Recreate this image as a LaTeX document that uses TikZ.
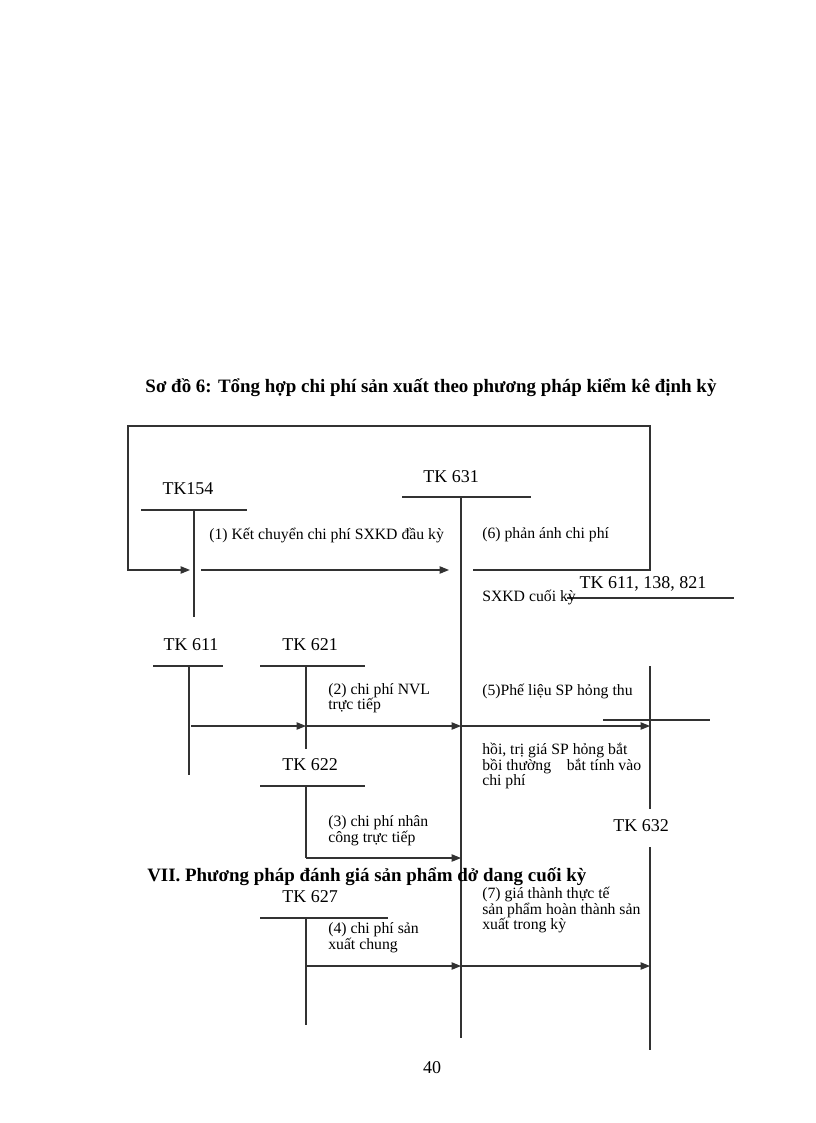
\documentclass[tikz,border=0pt]{standalone}
\usepackage{fontspec}
\setmainfont{Liberation Serif}
\usetikzlibrary{arrows.meta}
\definecolor{lineg}{RGB}{50,50,50}

\begin{document}
\begin{tikzpicture}[x=0.75pt,y=-0.75pt,
  ln/.style={lineg, line width=0.8pt},
  arr/.style={ln, -{Triangle[length=7pt,width=5.5pt]}},
  acct/.style={font=\fontsize{13.5}{15}\selectfont, inner sep=0pt},
  note/.style={font=\fontsize{11.8}{11.7}\selectfont, align=left, inner sep=0pt, anchor=west},
  head/.style={font=\bfseries\fontsize{14.2}{16}\selectfont, inner sep=0pt}]
\useasboundingbox (0,0) rectangle (816,1123);

% Title
\node[head] (title) at (431,388) {Sơ đồ 6: Tổng hợp chi phí sản xuất theo phương pháp kiểm kê định kỳ};

% Accounts
\node[acct] (t154) at (188,489) {TK154};
\coordinate (t154L) at (141,510); \coordinate (t154R) at (247,510);
\coordinate (t154T) at (194,510); \coordinate (t154B) at (194,617);
\draw[ln] (t154L) -- (t154R);
\draw[ln] (t154T) -- (t154B);

\node[acct] (t631) at (451,477) {TK 631};
\coordinate (t631L) at (402,497); \coordinate (t631R) at (531,497);
\coordinate (t631T) at (461,497); \coordinate (t631B) at (461,1038);
\draw[ln] (t631L) -- (t631R);
\draw[ln] (t631T) -- (t631B);

\node[acct] (t611b) at (643,584) {TK 611, 138, 821};
\coordinate (t611bL) at (567,598); \coordinate (t611bR) at (734,598);
\draw[ln] (t611bL) -- (t611bR);

\node[acct] (t611) at (191,645) {TK 611};
\coordinate (t611L) at (153,666); \coordinate (t611R) at (223,666);
\coordinate (t611T) at (189,666); \coordinate (t611B) at (189,775);
\draw[ln] (t611L) -- (t611R);
\draw[ln] (t611T) -- (t611B);

\node[acct] (t621) at (310,645) {TK 621};
\coordinate (t621L) at (260,666); \coordinate (t621R) at (365,666);
\coordinate (t621T) at (306,666); \coordinate (t621B) at (306,749);
\draw[ln] (t621L) -- (t621R);
\draw[ln] (t621T) -- (t621B);

\node[acct] (t622) at (310,765) {TK 622};
\coordinate (t622L) at (260,786); \coordinate (t622R) at (365,786);
\coordinate (t622T) at (306,786); \coordinate (t622B) at (306,858);
\draw[ln] (t622L) -- (t622R);
\draw[ln] (t622T) -- (t622B);

\node[acct] (t627) at (310,897) {TK 627};
\coordinate (t627L) at (260,918); \coordinate (t627R) at (388,918);
\coordinate (t627T) at (306,918); \coordinate (t627B) at (306,1025);
\draw[ln] (t627L) -- (t627R);
\draw[ln] (t627T) -- (t627B);

\node[acct] (t632) at (641,826) {TK 632};
\coordinate (t632T) at (650,666); \coordinate (t632M) at (650,809);
\coordinate (t632N) at (650,847); \coordinate (t632B) at (650,1050);
\coordinate (t632L) at (603,720); \coordinate (t632R) at (710,720);
\draw[ln] (t632T) -- (t632M);
\draw[ln] (t632N) -- (t632B);
\draw[ln] (t632L) -- (t632R);

% Loop box (6)
\coordinate (boxS) at (473,570); \coordinate (boxBR) at (650,570);
\coordinate (boxTR) at (650,426); \coordinate (boxTL) at (128,426);
\coordinate (boxBL) at (128,570); \coordinate (in154) at (190,570);
\draw[arr] (boxS) -- (boxBR) -- (boxTR) -- (boxTL) -- (boxBL) -- (in154);

% Flows
\coordinate (out154) at (201,570); \coordinate (in631a) at (449,570);
\draw[arr] (out154) -- (in631a);
\draw[arr] (t611 |- 0,726) coordinate (a611) -- (t621T |- a611) coordinate (a621);
\draw[arr] (a621) -- (t631T |- a621) coordinate (a631);
\draw[arr] (a631) -- (t632T |- a631);
\draw[arr] (t622B) -- (t631T |- t622B);
\coordinate (c627) at (306,966);
\draw[arr] (c627) -- (t631T |- c627) coordinate (c631);
\draw[arr] (c631) -- (t632T |- c631);

% Notes
\node[note] (n1) at (209,535) {(1) Kết chuyển chi phí SXKD đầu kỳ};
\node[note] (n6) at (482,535) {(6) phản ánh chi phí};
\node[note] (n6b) at (482,597) {SXKD cuối kỳ};
\node[note] (n2) at (328,698) {(2) chi phí NVL\\trực tiếp};
\node[note] (n5) at (482,691) {(5)Phế liệu SP hỏng thu};
\node[note] (n5b) at (482,766) {hồi, trị giá SP hỏng bắt\\bồi thường\quad bắt tính vào\\chi phí};
\node[note] (n3) at (328,831) {(3) chi phí nhân\\công trực tiếp};
\node[note] (n4) at (328,938) {(4) chi phí sản\\xuất chung};
\node[note] (n7) at (482,910) {(7) giá thành thực tế\\sản phẩm hoàn thành sản\\xuất trong kỳ};

% Section heading and page number
\node[head, anchor=west] (sec) at (147,877) {VII. Phương pháp đánh giá sản phẩm dở dang cuối kỳ};
\node[acct] (page) at (432,1068) {40};
\end{tikzpicture}
\end{document}
